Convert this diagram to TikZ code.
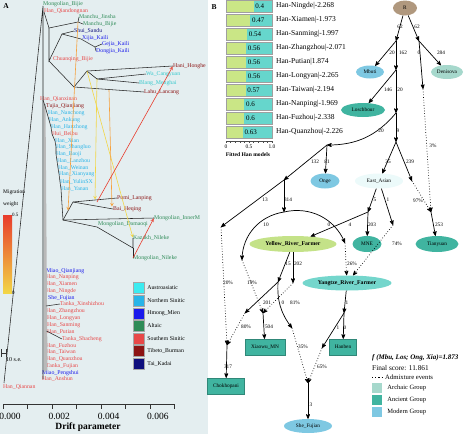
\documentclass[tikz,border=0pt]{standalone}
\usepackage{fontspec}
\setmainfont{Liberation Serif}
\usetikzlibrary{
  arrows,
  shapes.geometric,
  chains,
  positioning,
  scopes
}
\definecolor{panelbg}{RGB}{228,238,240}
\definecolor{aasia}{RGB}{60,235,240}
\definecolor{nsin}{RGB}{40,180,232}
\definecolor{hmong}{RGB}{25,25,235}
\definecolor{altaic}{RGB}{46,139,87}
\definecolor{ssin}{RGB}{232,72,72}
\definecolor{tibur}{RGB}{140,20,20}
\definecolor{taikad}{RGB}{15,15,125}
\definecolor{archaicc}{RGB}{166,216,204}
\definecolor{ancientc}{RGB}{64,180,160}
\definecolor{modernc}{RGB}{126,200,226}
\definecolor{rootc}{RGB}{176,152,126}
\definecolor{eastc}{RGB}{236,250,250}
\definecolor{yrfc}{RGB}{196,226,136}
\definecolor{ytzc}{RGB}{116,214,204}
\definecolor{barg}{RGB}{202,230,134}
\definecolor{bart}{RGB}{102,214,204}
\definecolor{migo}{RGB}{246,160,60}
\definecolor{migy}{RGB}{242,214,70}
\definecolor{migr}{RGB}{232,60,45}
\newcommand{\fsz}[1]{\fontsize{#1}{#1}\selectfont}

\begin{document}
\begin{tikzpicture}[x=1pt,y=1pt,
      pop/.style={anchor=west,inner sep=0pt,font=\fsz{5.8}},
      grpalt/.style={text=altaic},
      grpss/.style={text=ssin},
      grpns/.style={text=nsin},
      grpaa/.style={text=aasia!85!black},
      grphm/.style={text=hmong},
      grptb/.style={text=tibur},
      grptk/.style={text=taikad},
      branch/.style={draw=black!85,line width=0.55pt},
      mig/.style={->,>=stealth,line width=0.6pt,shorten >=0.5pt},
      legbox/.style={draw=gray!70,minimum width=11pt,minimum height=11pt,inner sep=0pt},
      leglbl/.style={anchor=west,inner sep=0pt,font=\fsz{5.8}},
      rootnode/.style={ellipse,fill=rootc,inner sep=0pt,font=\fsz{5.3}},
      archaic/.style={ellipse,fill=archaicc,inner sep=0pt,font=\fsz{5.3}},
      ancient/.style={ellipse,fill=ancientc,inner sep=0pt,font=\fsz{5.3}},
      ancientbox/.style={rectangle,fill=ancientc,draw=ancientc!75!black,line width=0.3pt,inner sep=0pt,font=\fsz{5.3}},
      modern/.style={ellipse,fill=modernc,inner sep=0pt,font=\fsz{5.3}},
      farmer/.style={ellipse,inner sep=0pt,font=\fsz{5.8}\bfseries},
      elbl/.style={inner sep=0pt,font=\fsz{5.3}},
      point/.style={coordinate},>=stealth',
      tip/.style={->,shorten >=0.007pt,line width=0.7pt},
      admix/.style={->,dotted,line width=0.7pt,shorten >=0.007pt},
      %every join/.style={rounded corners},
    ]
  \useasboundingbox (0,0) rectangle (474,-434);
  \fill[panelbg] (0,0) rectangle (208,-434);

  % ---------------- panel A: population labels
  \node (mbij)  [pop,grpalt] at (43,-4)   {Mongolian\_Bijie};
  \node (hqdn)  [pop,grpss]  at (44,-11)  {Han\_Qiandongnan};
  \node (mjin)  [pop,grpalt] at (79,-17)  {Manchu\_Jinsha};
  \node (mbj2)  [pop,grpalt] at (83,-24)  {Manchu\_Bijie};
  \node (shui)  [pop,grptk]  at (74,-31)  {Shui\_Sandu};
  \node (xijia) [pop,grphm]  at (82,-38)  {Xijia\_Kaili};
  \node (gejia) [pop,grphm]  at (102,-44) {Gejia\_Kaili};
  \node (dongj) [pop,grphm]  at (96,-51)  {Dongjia\_Kaili};
  \node (chuan) [pop,grpss]  at (53,-59)  {Chuanqing\_Bijie};
  \node (hani)  [pop,grptb]  at (173,-66) {Hani\_Honghe};
  \node (wa)    [pop,grpaa]  at (146,-74) {Wa\_Cangyuan};
  \node (blang) [pop,grpaa]  at (139,-83) {Blang\_Menghai};
  \node (lahu)  [pop,grptb]  at (144,-92) {Lahu\_Lancang};
  \node (hqxn)  [pop,grpss]  at (40,-99)  {Han\_Qianxinan};
  \node (tujia) [pop,grptb]  at (46,-106) {Tujia\_Qianjiang};
  \node (hnc)   [pop,grpns]  at (48,-113) {Han\_Nanchong};
  \node (hak)   [pop,grpns]  at (49,-120) {Han\_Ankang};
  \node (hhz)   [pop,grpns]  at (51,-127) {Han\_Hanzhong};
  \node (hui)   [pop,grpss]  at (52,-134) {Hui\_Beibu};
  \node (hxa)   [pop,grpns]  at (55,-141) {Han\_Xian};
  \node (hsl)   [pop,grpns]  at (56,-147) {Han\_Shangluo};
  \node (hbj)   [pop,grpns]  at (56,-154) {Han\_Baoji};
  \node (hlz)   [pop,grpns]  at (57,-161) {Han\_Lanzhou};
  \node (hwn)   [pop,grpns]  at (58,-168) {Han\_Weinan};
  \node (hxy)   [pop,grpns]  at (59,-174) {Han\_Xianyang};
  \node (hyl)   [pop,grpns]  at (60,-182) {Han\_YulinSX};
  \node (hya)   [pop,grpns]  at (61,-189) {Han\_Yanan};
  \node (pumi)  [pop,grptb]  at (117,-198) {Pumi\_Lanping};
  \node (bai)   [pop,grptb]  at (113,-209) {Bai\_Heqing};
  \node (minm)  [pop,grpalt] at (154,-218) {Mongolian\_InnerM};
  \node (mdmq)  [pop,grpalt] at (98,-224)  {Mongolian\_Damaoqi};
  \node (kaz)   [pop,grpalt] at (133,-238) {Kazakh\_Nileke};
  \node (mnil)  [pop,grpalt] at (133,-258) {Mongolian\_Nileke};
  \node (mqj)   [pop,grphm]  at (46,-271) {Miao\_Qianjiang};
  \node (hnp)   [pop,grpss]  at (46,-277) {Han\_Nanping};
  \node (hxm)   [pop,grpss]  at (46,-284) {Han\_Xiamen};
  \node (hnd)   [pop,grpss]  at (46,-291) {Han\_Ningde};
  \node (shef)  [pop,grphm]  at (48,-298) {She\_Fujian};
  \node (txsz)  [pop,grpss]  at (60,-304) {Tanka\_Xinshizhou};
  \node (hzz)   [pop,grpss]  at (46,-311) {Han\_Zhangzhou};
  \node (hly)   [pop,grpss]  at (47,-318) {Han\_Longyan};
  \node (hsm)   [pop,grpss]  at (47,-325) {Han\_Sanming};
  \node (hpt)   [pop,grpss]  at (47,-332) {Han\_Putian};
  \node (tsc)   [pop,grpss]  at (62,-339) {Tanka\_Shacheng};
  \node (hfz)   [pop,grpss]  at (46,-346) {Han\_Fuzhou};
  \node (htw)   [pop,grpss]  at (46,-352) {Han\_Taiwan};
  \node (hqz)   [pop,grpss]  at (46,-359) {Han\_Quanzhou};
  \node (tfj)   [pop,grpss]  at (46,-366) {Tanka\_Fujian};
  \node (mps)   [pop,grphm]  at (42,-373) {Miao\_Pengshui};
  \node (has)   [pop,grpss]  at (42,-379) {Han\_Anshun};
  \node (hqn)   [pop,grpss]  at (3,-387)  {Han\_Qiannan};

  % ---------------- panel A: tree
  \coordinate (t0) at (4,-383);
  \coordinate (t1) at (43,-6);
  \coordinate (t2) at (43,-379);
  \coordinate (t3) at (49,-28);
  \coordinate (t4) at (78,-22);
  \coordinate (t5) at (49,-61);
  \coordinate (t6) at (62,-34);
  \coordinate (t7) at (81,-39);
  \coordinate (t8) at (95,-47);
  \coordinate (t9) at (74,-87);
  \coordinate (t10) at (87,-71);
  \coordinate (t11) at (97,-79);
  \coordinate (t12) at (63,-220);
  \coordinate (t13) at (73,-202);
  \coordinate (t14) at (97,-227);
  \coordinate (t15) at (133,-248);
  \fill[gray!55] (44,-104) -- (45.5,-104) -- (47.5,-370) -- (44,-372) -- cycle;
  \draw[branch] (t0) -- (t1) -- (t2);
  \draw[branch] (44,-12) -- (t3) -- (t4) -- (mjin.west);
  \draw[branch] (t4) -- (mbj2.west);
  \draw[branch] (t3) -- (t5) -- (t6) -- (shui.west);
  \draw[branch] (t6) -- (t7) -- (t8) -- (gejia.west);
  \draw[branch] (t8) -- (dongj.west);
  \draw[branch] (t5) -- (t9) -- (t10) -- (hani.west);
  \draw[branch] (t10) -- (t11) -- (wa.west);
  \draw[branch] (t11) -- (blang.west);
  \draw[branch] (t9) -- (lahu.west);
  \draw[branch] (43,-100) -- (45,-106) -- (47,-113) -- (49,-120) -- (51,-127)
     -- (52,-134) -- (55,-141) -- (56,-147) -- (56,-154) -- (57,-161)
     -- (58,-168) -- (59,-174) -- (60,-182) -- (61,-189) -- (t12);
  \draw[branch] (t12) -- (t13) -- (pumi.west);
  \draw[branch] (t13) -- (bai.west);
  \draw[branch] (t12) -- (minm.west);
  \draw[branch] (t12) -- (t14) -- (t15) -- (kaz.west);
  \draw[branch] (t15) -- (mnil.west);
  \draw[branch] (46,-306) -- (txsz.west);
  \draw[branch] (46.5,-331) -- (tsc.west);

  % migration edges
  \draw[mig,migo] (t4) -- (68,-211);
  \draw[mig,migy] (t11) -- (95,-200);
  \draw[mig,migy] (t10) -- (kaz.west);
  \draw[mig,migo] (109,-90) -- (112,-207);
  \draw[mig,migr] (97,-202) -- (hani.west);
  \draw[mig,migr] (mnil.west) -- (minm.west);

  % migration weight scale
  \node (migt) [anchor=west,inner sep=0pt,font=\fsz{5.5}] at (3,-192) {Migration};
  \node (migw) [anchor=west,inner sep=0pt,font=\fsz{5.5}] at (3,-204) {weight};
  \shade[top color=migr,middle color=migo,bottom color=migy] (3,-215) rectangle (12,-293);
  \node (mighi) [anchor=west,inner sep=0pt,font=\fsz{5}] at (12,-215) {0.5};
  \node (miglo) [anchor=west,inner sep=0pt,font=\fsz{5}] at (12,-293) {0};

  % scale bar
  \draw[black!80,line width=0.5pt] (1,-349) -- (1,-357) (1,-353) -- (6,-353) (6,-349) -- (6,-357);
  \node (sebar) [anchor=west,inner sep=0pt,font=\fsz{6}] at (6,-360) {10 s.e.};

  % axis
  \draw[black!80,line width=0.5pt] (3,-404) -- (174,-404);
  \foreach \k in {0,...,7}
    \draw[black!80,line width=0.5pt] (3+24.5*\k,-404) -- ++(0,-5);
  \foreach \t [count=\k from 0] in {0.000,0.002,0.004,0.006}
    \node (tick\k) [inner sep=0pt,font=\fsz{9.5}] at (10+49.3*\k,-416) {\t};
  \node (drift) [inner sep=0pt,font=\fsz{9.5}\bfseries] at (88,-427) {Drift parameter};

  % language legend
  \foreach \c/\t [count=\k from 0] in {aasia/Austroasiatic, nsin/Northern Sinitic,
      hmong/Hmong\_Mien, altaic/Altaic, ssin/Southern Sinitic,
      tibur/Tibeto\_Burman, taikad/Tai\_Kadai} {
    \node (lg\k) [legbox,fill=\c] at (138.5,-288-12.6*\k) {};
    \node (lt\k) [leglbl,right=3pt of lg\k] {\t};
  }
  \node (pa) [inner sep=0pt,font=\fsz{7.5}\bfseries] at (6,-6) {A};

  % ---------------- panel B: fitted models
  \node (pb) [inner sep=0pt,font=\fsz{7.5}\bfseries] at (214,-7) {B};
  \foreach \v/\lab [count=\i from 0] in {
      0.4/{Han-Ningde|-2.268}, 0.47/{Han-Xiamen|-1.973}, 0.54/{Han-Sanming|-1.997},
      0.56/{Han-Zhangzhou|-2.071}, 0.56/{Han-Putian|1.874}, 0.56/{Han-Longyan|-2.265},
      0.57/{Han-Taiwan|-2.194}, 0.6/{Han-Nanping|-1.969}, 0.6/{Han-Fuzhou|-2.338},
      0.63/{Han-Quanzhou|-2.226}} {
    \pgfmathsetmacro{\yc}{-6.2-14*\i}
    \pgfmathsetmacro{\xs}{226+46*(1-\v)}
    \fill[barg] (226,\yc-6) rectangle (\xs,\yc+6);
    \fill[bart] (\xs,\yc-6) rectangle (272,\yc+6);
    \draw[gray!75,line width=0.9pt] (226,\yc-6) rectangle (272,\yc+6);
    \node (val\i) [anchor=west,inner sep=0pt,font=\fsz{7}] at (\xs+1.5,\yc) {\v};
    \node (fit\i) [anchor=west,inner sep=0pt,font=\fsz{7.5}] at (276,\yc) {\lab};
  }
  \draw[gray!60!black,line width=0.4pt] (226,-141) -- (272,-141);
  \foreach \k in {0,...,10}
    \draw[gray!60!black,line width=0.4pt] (226+4.6*\k,-141) -- ++(0,-1.8);
  \node (fx0) [inner sep=0pt,font=\fsz{5.5}] at (226,-147) {0};
  \node (fx1) [inner sep=0pt,font=\fsz{5.5}] at (249,-147) {0.5};
  \node (fx2) [inner sep=0pt,font=\fsz{5.5}] at (272,-147) {1.0};
  \node (fitted) [inner sep=0pt,font=\fsz{5.6}\bfseries] at (248,-155) {Fitted Han models};

  % ---------------- panel B: admixture graph
  \node (R)    [rootnode,minimum width=24pt,minimum height=15pt] at (405,-8) {R};
  \node (p1)   [point] at (396,-41) {};
  \node (p2)   [point] at (419,-41) {};
  \node (Mbu)  [modern,minimum width=28pt,minimum height=13pt] at (370,-72) {Mbuti};
  \node (Den)  [archaic,minimum width=32pt,minimum height=14pt] at (447,-72) {Denisova};
  \node (p3)   [point] at (396,-70) {};
  \node (p4)   [point] at (423,-89) {};
  \node (Los)  [ancient,minimum width=44pt,minimum height=14pt] at (363,-110) {Loschbour};
  \node (p5)   [point] at (396,-113) {};
  \node (p6)   [point] at (327,-145) {};
  \node (p7)   [point] at (396,-142) {};
  \node (Ong)  [modern,minimum width=29pt,minimum height=15pt] at (325,-181) {Onge};
  \node (EAs)  [ellipse,fill=eastc,inner sep=0pt,font=\fsz{5.3},minimum width=48pt,minimum height=15pt] at (379,-181) {East\_Asian};
  \node (p8)   [point] at (284,-180) {};
  \node (p9)   [point] at (412,-181) {};
  \node (p10)  [point] at (431,-212) {};
  \node (p11)  [point] at (221,-227) {};
  \node (p12)  [point] at (284,-212) {};
  \node (p13)  [point] at (368,-212) {};
  \node (p14)  [point] at (393,-225) {};
  \node (YRF)  [farmer,fill=yrfc,minimum width=87pt,minimum height=16pt] at (293,-244) {Yellow\_River\_Farmer};
  \node (MNE)  [ancient,minimum width=29pt,minimum height=16pt] at (367,-244) {MNE};
  \node (Tia)  [ancient,minimum width=43pt,minimum height=16pt] at (437,-244) {Tianyuan};
  \node (p15)  [point] at (242,-260) {};
  \node (p16)  [point] at (345,-243) {};
  \node (Ytz)  [farmer,fill=ytzc,minimum width=89pt,minimum height=15pt] at (347,-283) {Yangtze\_River\_Farmer};
  \node (p17)  [point] at (278,-282) {};
  \node (p18)  [point] at (293,-283) {};
  \node (p19)  [point] at (245,-313) {};
  \node (p20)  [point] at (263,-313) {};
  \node (p21)  [point] at (292,-328) {};
  \node (p22)  [point] at (344,-313) {};
  \node (p23)  [point] at (322,-348) {};
  \node (Xia)  [ancientbox,minimum width=40pt,minimum height=16pt] at (265,-347) {Xiaowu\_MN};
  \node (Hanb) [ancientbox,minimum width=27pt,minimum height=16pt] at (343,-347) {Hanben};
  \node (p24)  [point] at (227,-345) {};
  \node (Cho)  [ancientbox,minimum width=37pt,minimum height=16pt] at (226,-386) {Chokhopani};
  \node (p25)  [point] at (308,-383) {};
  \node (SheF) [modern,minimum width=48pt,minimum height=14pt] at (308,-426) {She\_Fujian};

  { [start chain]
       \chainin (R);
       \chainin (p1)    [join=by tip];
       \chainin (p3)    [join=by tip];
       \chainin (p5)    [join=by tip];
       \chainin (p7)    [join=by tip];
       \chainin (p9)    [join=by tip];
  }
  { [start chain]
       \chainin (R);
       \chainin (p2)    [join=by tip];
       \chainin (p4)    [join=by tip];
  }
  { [start chain]
       \chainin (p2);
       \chainin (Den)   [join=by tip];
  }
  { [start chain]
       \chainin (p1);
       \chainin (Mbu)   [join=by tip];
  }
  { [start chain]
       \chainin (p3);
       \chainin (Los)   [join=by tip];
  }
  { [start chain]
       \chainin (p5);
       \chainin (p6)    [join=by {tip,bend left=25}];
       \chainin (p8)    [join=by tip];
       \chainin (p12)   [join=by tip];
       \chainin (p15)   [join=by {tip,bend right=40}];
  }
  { [start chain]
       \chainin (p12);
       \chainin (p16)   [join=by {tip,bend left=40}];
  }
  { [start chain]
       \chainin (p6);
       \chainin (Ong)   [join=by tip];
  }
  { [start chain]
       \chainin (p7);
       \chainin (EAs)   [join=by tip];
       \chainin (p13)   [join=by tip];
       \chainin (YRF)   [join=by tip];
       \chainin (p17)   [join=by tip];
       \chainin (p19)   [join=by tip];
  }
  { [start chain]
       \chainin (EAs);
       \chainin (p14)   [join=by tip];
  }
  { [start chain]
       \chainin (p13);
       \chainin (MNE)   [join=by tip];
  }
  { [start chain]
       \chainin (p8);
       \chainin (p11)   [join=by tip];
  }
  { [start chain]
       \chainin (YRF);
       \chainin (p18)   [join=by tip];
  }
  { [start chain]
       \chainin (p17);
       \chainin (p21)   [join=by {tip,bend right=20}];
  }
  { [start chain]
       \chainin (p20);
       \chainin (Xia)   [join=by tip];
  }
  { [start chain]
       \chainin (Ytz);
       \chainin (p22)   [join=by tip];
       \chainin (p23)   [join=by tip];
  }
  { [start chain]
       \chainin (p22);
       \chainin (Hanb)  [join=by tip];
  }
  { [start chain]
       \chainin (p24);
       \chainin (Cho)   [join=by tip];
  }
  { [start chain]
       \chainin (p25);
       \chainin (SheF)  [join=by tip];
  }
  { [start chain]
       \chainin (p10);
       \chainin (Tia)   [join=by tip];
  }
  % admixture events
  { [start chain]
       \chainin (p4);
       \chainin (p10)   [join=by admix];
  }
  { [start chain]
       \chainin (p9);
       \chainin (p10)   [join=by admix];
  }
  { [start chain]
       \chainin (p11);
       \chainin (p24)   [join=by admix];
  }
  { [start chain]
       \chainin (p19);
       \chainin (p24)   [join=by admix];
  }
  { [start chain]
       \chainin (p15);
       \chainin (p20)   [join=by admix];
  }
  { [start chain]
       \chainin (p18);
       \chainin (p20)   [join=by admix];
  }
  { [start chain]
       \chainin (p16);
       \chainin (Ytz)   [join=by admix];
  }
  { [start chain]
       \chainin (p14);
       \chainin (Ytz)   [join=by admix];
  }
  { [start chain]
       \chainin (p21);
       \chainin (p25)   [join=by admix];
  }
  { [start chain]
       \chainin (p23);
       \chainin (p25)   [join=by admix];
  }

  % edge weights and admixture proportions
  \foreach \x/\y/\t [count=\i] in {400/27/62, 417/27/62, 392/53/20, 403/53/162,
      419/53/0, 441/53/284, 388/90/146, 400/90/20, 381/131/20, 398/131/9,
      433/146/3\%, 315/162/132, 327/162/81, 388/162/35, 410/162/239,
      418/201/97\%, 265/200/13, 288/200/314, 375/200/5, 388/200/1,
      266/225/10, 329/225/0, 350/225/4, 372/225/203, 439/225/253,
      397/244/74\%, 288/264/15, 298/264/202, 352/264/26\%, 228/283/20\%,
      252/283/19\%, 267/303/201, 283/303/0, 295/303/81\%, 347/303/1,
      246/327/80\%, 269/327/504, 338/328/1, 345/328/0, 303/347/35\%,
      322/367/65\%, 228/367/317, 311/405/3}
    \node (w\i) [elbl] at (\x,-\y) {\t};

  % legend
  \node (fstat) [anchor=west,inner sep=0pt,font=\fsz{7}\bfseries\itshape] at (372,-358) {f (Mbu, Los; Ong, Xia)=1.873};
  \node (score) [anchor=west,inner sep=0pt,font=\fsz{7.3}] at (372,-368) {Final score: 11.861};
  \coordinate (ad0) at (372,-377);
  \coordinate (ad1) at (384,-377);
  \draw[dash pattern=on 1.2pt off 2pt,line width=0.6pt] (ad0) -- (ad1);
  \node (adm) [anchor=west,inner sep=0pt,font=\fsz{6.7}] at (385,-377) {Admixture events};
  \foreach \c/\t [count=\k from 0] in {archaicc/Archaic Group, ancientc/Ancient Group, modernc/Modern Group} {
    \node (gb\k) [minimum width=10pt,minimum height=10pt,inner sep=0pt,fill=\c] at (377,-388-12.2*\k) {};
    \node (gt\k) [anchor=west,inner sep=0pt,font=\fsz{6.5},right=5pt of gb\k] {\t};
  }
\end{tikzpicture}
\end{document}
